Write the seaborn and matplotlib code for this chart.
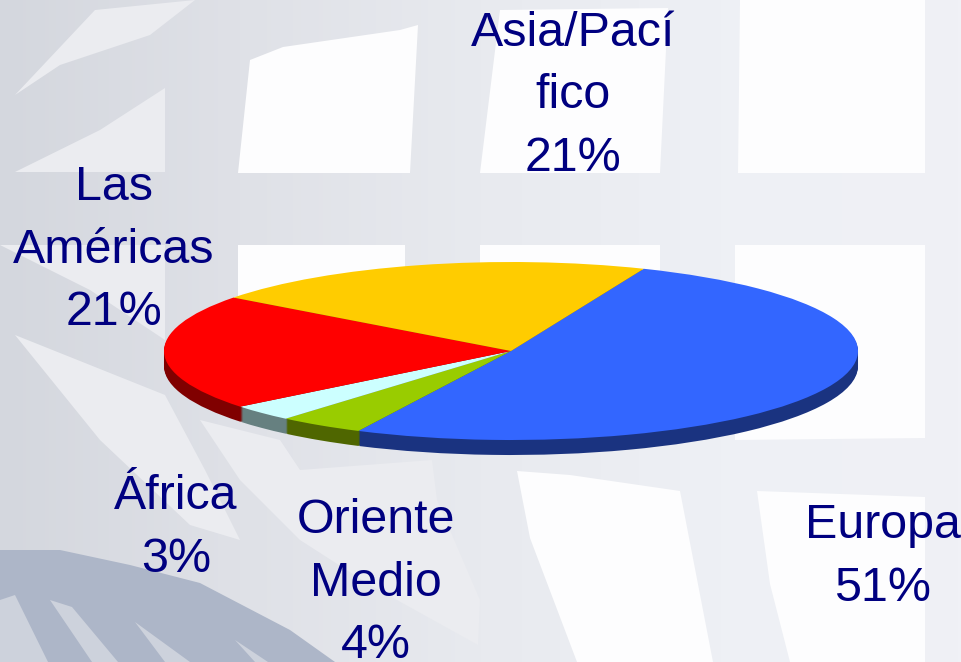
import numpy as np
import matplotlib
matplotlib.use('Agg')
import matplotlib.pyplot as plt
from matplotlib.colors import LinearSegmentedColormap
import seaborn as sns

# datos
regiones = ['Europa', 'Oriente\nMedio', 'África', 'Las\nAméricas', 'Asia/Pací\nfico']
valores = [51, 4, 3, 21, 21]
colores = ['#3366FF', '#99CC00', '#CCFFFF', '#FF0000', '#FFCC00']
colores_lado = ['#1A3380', '#4F6600', '#668080', '#800000', '#806600']

W, H = 962, 662

# posicion de cada etiqueta en pixeles (x centro, y centro)
pos_etiquetas = [(883, 557), (376, 583), (176, 528), (114, 250), (573, 96)]

# fondo: paneles claros, en pixeles
paneles_blancos = [
    [(238, 173), (250, 60), (283, 47), (400, 30), (418, 25), (410, 173)],
    [(480, 173), (500, 10), (668, 8), (660, 173)],
    [(738, 173), (740, 0), (925, 0), (925, 173)],
    [(238, 300), (238, 245), (405, 245), (405, 300)],
    [(480, 300), (480, 245), (660, 245), (660, 300)],
    [(735, 440), (735, 245), (925, 245), (925, 438)],
    [(517, 471), (570, 475), (680, 491), (713, 662), (577, 662), (530, 538)],
    [(757, 491), (925, 497), (925, 662), (790, 662), (770, 584)],
]
paneles_palidos = [
    [(15, 95), (95, 10), (195, 0), (150, 35), (60, 65)],
    [(15, 172), (100, 130), (165, 88), (165, 172)],
    [(0, 245), (165, 245), (165, 340), (90, 290)],
    [(15, 335), (165, 395), (205, 470), (240, 540), (190, 525), (100, 440)],
    [(200, 420), (280, 440), (300, 470), (432, 460), (437, 500), (480, 600),
     (478, 645), (370, 585), (300, 540), (240, 480)],
]
arco_oscuro = [(0, 550), (60, 550), (130, 565), (200, 583), (290, 630), (335, 662), (0, 662)]
rayos = [
    [(0, 600), (15, 595), (48, 662), (0, 662)],
    [(50, 600), (72, 607), (118, 662), (92, 662)],
    [(135, 622), (190, 662), (165, 662)],
    [(235, 640), (268, 662), (255, 662)],
]

sns.set_theme(style='white')
plt.rcParams['font.family'] = ['Liberation Sans', 'DejaVu Sans']

fig = plt.figure(figsize=(W / 100, H / 100), dpi=100)

# capa de fondo
bg = fig.add_axes([0, 0, 1, 1])
grad = LinearSegmentedColormap.from_list('fondo', ['#D4D7DE', '#DFE1E7', '#E8EAEF', '#EEF0F5', '#F0F1F6'])
bg.imshow(np.linspace(0, 1, 256)[None, :], cmap=grad, aspect='auto', extent=[0, W, H, 0])
for p in paneles_blancos:
    bg.fill(*zip(*p), color='#FDFDFE', lw=0)
for p in paneles_palidos:
    bg.fill(*zip(*p), color='#EBECF0', lw=0)
bg.fill(*zip(*arco_oscuro), color='#ADB6C8', lw=0)
for p in rayos:
    bg.fill(*zip(*p), color='#CDD2DC', lw=0)
bg.set_xlim(0, W)
bg.set_ylim(H, 0)
bg.axis('off')

# tarta aplastada con lateral oscuro
ax = fig.add_axes([0, 0, 1, 1])
ax.patch.set_alpha(0)
rx, ry = 347, 89
cx, cy = 511, 351
profundidad = 15
for d in range(profundidad, 0, -1):
    ax.pie(valores, colors=sns.color_palette(colores_lado), startangle=67.5, counterclock=False,
           center=(0, -d / ry), wedgeprops={'linewidth': 0})
ax.pie(valores, colors=sns.color_palette(colores), startangle=67.5, counterclock=False,
       wedgeprops={'linewidth': 0})
ax.set_aspect('auto')
ax.set_xlim(-cx / rx, (W - cx) / rx)
ax.set_ylim(-(H - cy) / ry, cy / ry)

for reg, val, (x, y) in zip(regiones, valores, pos_etiquetas):
    fig.text(x / W, 1 - y / H, f'{reg}\n{val}%', ha='center', va='center', ma='center',
             fontsize=34.8, color='#000080', linespacing=1.5)

fig.savefig('out.png', dpi=100)
